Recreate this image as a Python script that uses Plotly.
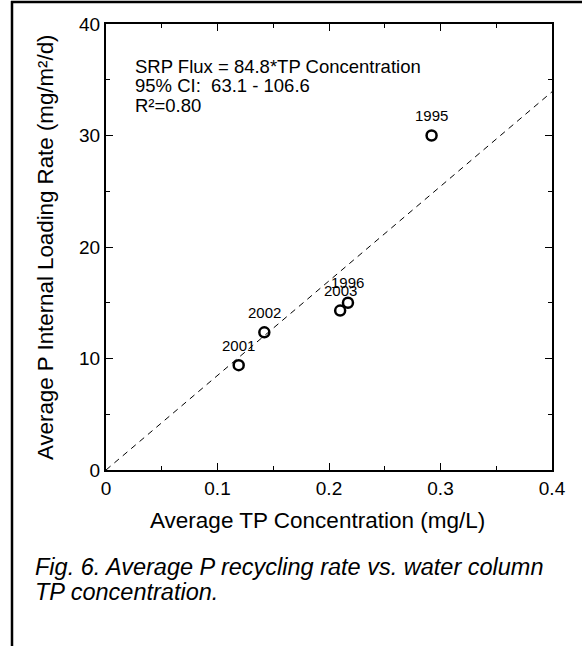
import plotly.graph_objects as go

# Data
years = ["1995", "1996", "2001", "2002", "2003"]
tp_conc = [0.292, 0.217, 0.119, 0.142, 0.210]
p_loading = [30.0, 15.0, 9.4, 12.35, 14.3]

fit_x = [0.0, 0.4]
fit_y = [0.0, 33.92]

x_ticks = [0, 0.1, 0.2, 0.3, 0.4]
x_tick_text = ["0", "0.1", "0.2", "0.3", "0.4"]
y_ticks = [0, 10, 20, 30, 40]
y_tick_text = ["0", "10", "20", "30", "40"]

eq_lines = ["SRP Flux = 84.8*TP Concentration", "95% CI:  63.1 - 106.6", "R²=0.80"]
caption_lines = ["Fig. 6. Average P recycling rate vs. water column", "TP concentration."]

FONT = "Arial, 'Liberation Sans', sans-serif"
W, H = 582, 646
L, R, T, B = 106, 30, 24, 176
PW, PH = W - L - R, H - T - B


def px(x):
    return (x - L) / PW


def py(y):
    return (H - B - y) / PH


fig = go.Figure()
fig.add_trace(go.Scatter(
    x=fit_x, y=fit_y, mode="lines",
    line=dict(color="black", width=1, dash="6px,5px"),
    hoverinfo="skip", showlegend=False,
))
fig.add_trace(go.Scatter(
    x=tp_conc, y=p_loading, mode="markers",
    marker=dict(symbol="circle-open", size=10, color="black", line=dict(width=2.5, color="black")),
    showlegend=False, cliponaxis=False,
))

axis_common = dict(
    showline=True, linewidth=2, linecolor="black", mirror="allticks",
    ticks="inside", ticklen=7, tickwidth=1.2, tickcolor="black",
    showgrid=False, zeroline=False,
    tickfont=dict(family=FONT, size=19, color="black"),
)
fig.update_xaxes(range=[0, 0.4], tickvals=x_ticks, ticktext=x_tick_text,
                 minor=dict(ticks="inside", ticklen=4, tickwidth=1.2, tickcolor="black", dtick=0.05, tick0=0, showgrid=False),
                 **axis_common)
fig.update_yaxes(range=[0, 40], tickvals=y_ticks, ticktext=y_tick_text,
                 minor=dict(ticks="inside", ticklen=4, tickwidth=1.2, tickcolor="black", dtick=5, tick0=0, showgrid=False),
                 **axis_common)

ann = []
for yr, xv, yv in zip(years, tp_conc, p_loading):
    ann.append(dict(text=yr, x=xv, y=yv, xref="x", yref="y", xanchor="center", yanchor="middle",
                    yshift=20, showarrow=False, font=dict(family=FONT, size=15, color="black")))
ann.append(dict(text="Average TP Concentration (mg/L)", x=px(317), y=py(520), xref="paper", yref="paper",
                xanchor="center", yanchor="middle", showarrow=False,
                font=dict(family=FONT, size=22.5, color="black")))
ann.append(dict(text="Average P Internal Loading Rate (mg/m²/d)", x=px(45), y=py(247), xref="paper", yref="paper",
                xanchor="center", yanchor="middle", showarrow=False, textangle=-90,
                font=dict(family=FONT, size=22.3, color="black")))
for line, yy in zip(eq_lines, [66, 86, 106]):
    ann.append(dict(text=line, x=px(133), y=py(yy), xref="paper", yref="paper",
                    xanchor="left", yanchor="middle", showarrow=False,
                    font=dict(family=FONT, size=18.5, color="black")))
for line, yy in zip(caption_lines, [567, 592]):
    ann.append(dict(text="<i>" + line + "</i>", x=px(33), y=py(yy), xref="paper", yref="paper",
                    xanchor="left", yanchor="middle", showarrow=False,
                    font=dict(family=FONT, size=23.5, color="black")))

shapes = [
    dict(type="line", xref="paper", yref="paper", x0=px(11), x1=px(582), y0=py(2), y1=py(2),
         line=dict(color="black", width=2.5)),
    dict(type="line", xref="paper", yref="paper", x0=px(12), x1=px(12), y0=py(1), y1=py(646),
         line=dict(color="black", width=2.5)),
]

fig.update_layout(
    width=W, height=H,
    margin=dict(l=L, r=R, t=T, b=B, pad=0),
    paper_bgcolor="white", plot_bgcolor="white",
    annotations=ann, shapes=shapes,
    font=dict(family=FONT, color="black"),
    showlegend=False,
)

fig.write_html("out.html", config={"displayModeBar": False},
               post_script="document.body.style.margin='0';")
